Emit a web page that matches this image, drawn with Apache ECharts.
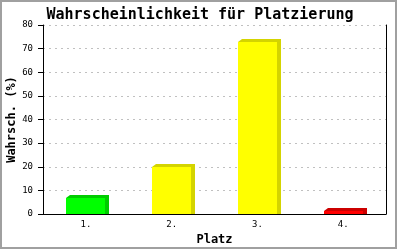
<!DOCTYPE html>
<html><head><meta charset="utf-8">
<script src="https://cdn.jsdelivr.net/npm/echarts@6/dist/echarts.min.js"></script>
<style>html,body{margin:0;padding:0;background:#fff}#c{width:400px;height:250px}</style>
</head><body><div id="c"></div>
<script>
const categories = ['1.', '2.', '3.', '4.'];
const values = [6.6, 19.7, 72.8, 1.3];
const frontColors = ['#00ff00', '#ffff00', '#ffff00', '#ff0000'];
const sideColors = ['#00cc00', '#d4d400', '#d4d400', '#cc0000'];
const yTicks = [0, 10, 20, 30, 40, 50, 60, 70, 80];

const FONT = 'DejaVu Sans Mono';
const chart = echarts.init(document.getElementById('c'), null, {renderer: 'canvas'});
const BAR_W = 39, DX = 4, DY = 3;

chart.setOption({
  animation: false,
  backgroundColor: '#fff',
  title: {
    text: 'Wahrscheinlichkeit für Platzierung',
    left: 'center', top: 3,
    textStyle: {fontFamily: FONT, fontWeight: 'bold', fontSize: 15, color: '#000'}
  },
  graphic: [{
    type: 'rect', shape: {x: 1, y: 1, width: 395, height: 247},
    style: {fill: 'none', stroke: '#a0a0a0', lineWidth: 2}, silent: true
  }],
  grid: {left: 43, right: 14, top: 25, bottom: 36, outerBoundsMode: 'none', containLabel: false},
  xAxis: {
    type: 'category', data: categories, boundaryGap: true,
    name: 'Platz', nameLocation: 'middle', nameGap: 20, nameMoveOverlap: false,
    nameTextStyle: {fontFamily: FONT, fontWeight: 'bold', fontSize: 12, color: '#000'},
    axisLine: {lineStyle: {color: '#000', width: 1}},
    axisTick: {show: false},
    axisLabel: {fontFamily: FONT, fontSize: 9, color: '#000', margin: 6}
  },
  yAxis: [{
    type: 'value', min: yTicks[0], max: yTicks[yTicks.length - 1], interval: 10,
    name: 'Wahrsch. (%)', nameLocation: 'middle', nameGap: 25, nameMoveOverlap: false,
    nameTextStyle: {fontFamily: FONT, fontWeight: 'bold', fontSize: 12, color: '#000'},
    axisLine: {show: true, lineStyle: {color: '#000', width: 1}},
    axisTick: {show: true, length: 5, inside: false, lineStyle: {color: '#000'}},
    axisLabel: {fontFamily: FONT, fontSize: 9, color: '#000', margin: 10},
    splitLine: {show: true, lineStyle: {color: '#c0c0c0', type: [2, 4], width: 1}}
  }, {
    type: 'value', position: 'right', min: 0, max: 80, interval: 10,
    axisLine: {show: true, lineStyle: {color: '#000', width: 1}},
    axisTick: {show: false}, axisLabel: {show: false}, splitLine: {show: false}
  }],
  series: [{
    type: 'custom',
    data: values.map((v, i) => [i, v]),
    renderItem: function (params, api) {
      const i = api.value(0);
      const top = api.coord([i, api.value(1)]);
      const base = api.coord([i, 0]);
      const x0 = Math.round(top[0] - BAR_W / 2), x1 = x0 + BAR_W;
      const y0 = Math.round(top[1]), yb = Math.round(base[1]);
      return {
        type: 'group',
        children: [{
          type: 'polygon',
          shape: {points: [[x0, y0], [x0 + DX, y0 - DY], [x1 + DX, y0 - DY], [x1 + DX, yb], [x1, yb]]},
          style: {fill: sideColors[i]}
        }, {
          type: 'rect',
          shape: {x: x0, y: y0, width: BAR_W, height: yb - y0},
          style: {fill: frontColors[i]}
        }]
      };
    }
  }]
});
</script></body></html>
